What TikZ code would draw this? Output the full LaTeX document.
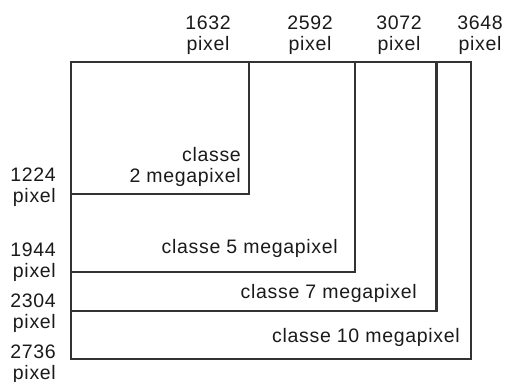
\documentclass[tikz,border=0pt]{standalone}
\usepackage{fontspec}
\setmainfont{Liberation Sans}[LetterSpace=3.5]
\definecolor{ln}{HTML}{333333}
\definecolor{tx}{HTML}{1A1A1A}
\begin{document}
\begin{tikzpicture}[x=1pt,y=-1pt,
  box/.style={draw=ln,line width=2.8pt},
  lbl/.style={text=tx,font=\fontsize{19.5}{20.5}\selectfont,inner sep=0pt,align=center},
  rlbl/.style={lbl,align=right,anchor=east}]
\useasboundingbox (0,0) rectangle (505,381);
\coordinate (tl) at (71,62);
\coordinate (c10) at (471,359);
\coordinate (c7) at (436.5,311);
\coordinate (c5) at (355,272);
\coordinate (c2) at (249,194);
\draw[box] (tl) rectangle (c10);
\draw[box] (tl) rectangle (c7);
\draw[box] (tl) rectangle (c5);
\draw[box] (tl) rectangle (c2);
% top labels
\node[lbl] (w1) at (208,35) {1632\\pixel};
\node[lbl] (w2) at (310,35) {2592\\pixel};
\node[lbl] (w3) at (399,35) {3072\\pixel};
\node[lbl] (w4) at (480,35) {3648\\pixel};
% left labels
\node[rlbl] (h1) at (56,187) {1224\\pixel};
\node[rlbl] (h2) at (56,262) {1944\\pixel};
\node[rlbl] (h3) at (56,313) {2304\\pixel};
\node[rlbl] (h4) at (56,364) {2736\\pixel};
% class labels
\node[rlbl] (k2) at (241,167) {classe\\2 megapixel};
\node[rlbl] (k5) at (338,248) {classe 5 megapixel};
\node[rlbl] (k7) at (417,293) {classe 7 megapixel};
\node[rlbl] (k10) at (460,337) {classe 10 megapixel};
\end{tikzpicture}
\end{document}
